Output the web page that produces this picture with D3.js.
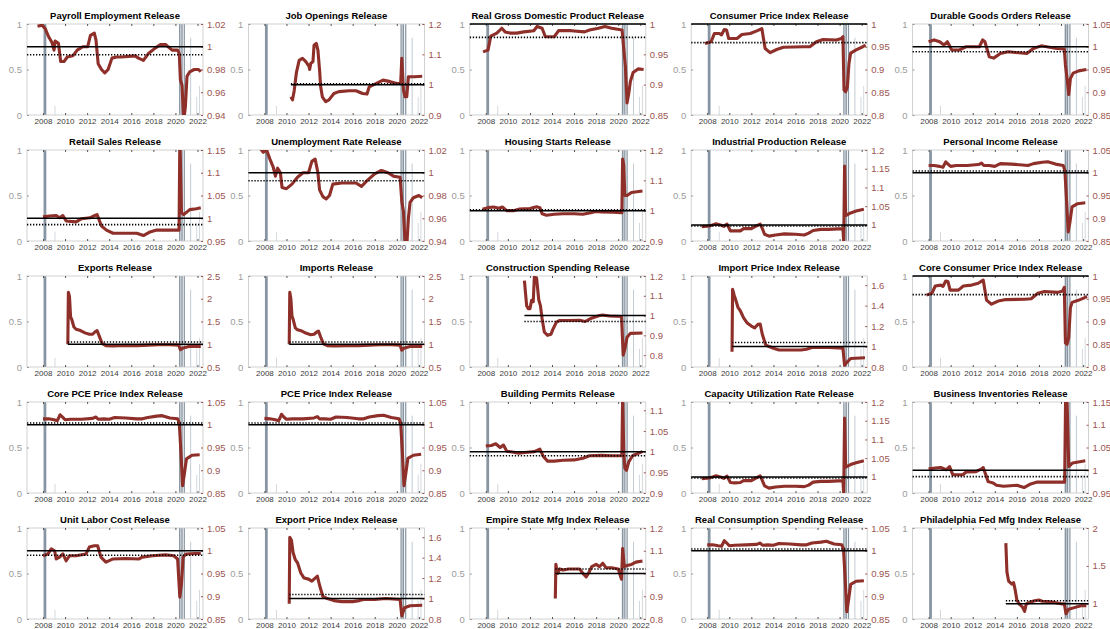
<!DOCTYPE html>
<html>
<head>
<meta charset="utf-8">
<script src="https://cdn.jsdelivr.net/npm/d3@7"></script>
<style>
  body { margin: 0; background: #fff; }
  svg text { font-family: "Liberation Sans", Arial, Helvetica, sans-serif; }
</style>
</head>
<body>
<div id="chart"></div>
<script>
/* DATA */
const xDomain = [2006.55, 2022.5]
const yearTicks = [2008, 2010, 2012, 2014, 2016, 2018, 2020, 2022]
const leftTicks = [0, 0.5, 1]

const titles = [
    "Payroll Employment Release", "Job Openings Release", "Real Gross Domestic Product Release", "Consumer Price Index Release", "Durable Goods Orders Release",
    "Retail Sales Release", "Unemployment Rate Release", "Housing Starts Release", "Industrial Production Release", "Personal Income Release",
    "Exports Release", "Imports Release", "Construction Spending Release", "Import Price Index Release", "Core Consumer Price Index Release",
    "Core PCE Price Index Release", "PCE Price Index Release", "Building Permits Release", "Capacity Utilization Rate Release", "Business Inventories Release",
    "Unit Labor Cost Release", "Export Price Index Release", "Empire State Mfg Index Release", "Real Consumption Spending Release", "Philadelphia Fed Mfg Index Release"
]

const rightDomains = [
    [0.94, 1.02], [0.9, 1.2], [0.85, 1], [0.8, 1], [0.85, 1.05],
    [0.95, 1.15], [0.94, 1.02], [0.9, 1.2], [0.957, 1.2], [0.85, 1.05],
    [0.5, 2.5], [0.5, 2.5], [0.74, 1.2], [0.8, 1.69], [0.8, 1],
    [0.85, 1.05], [0.85, 1.05], [0.9, 1.12], [0.957, 1.2], [0.95, 1.15],
    [0.85, 1.05], [0.8, 1.69], [0.8, 1.2], [0.85, 1.05], [0.8, 2]
]

const rightTicks = [
    [0.94, 0.96, 0.98, 1, 1.02], [0.9, 1, 1.1, 1.2], [0.85, 0.9, 0.95, 1], [0.8, 0.85, 0.9, 0.95, 1], [0.85, 0.9, 0.95, 1, 1.05],
    [0.95, 1, 1.05, 1.1, 1.15], [0.94, 0.96, 0.98, 1, 1.02], [0.9, 1, 1.1, 1.2], [1, 1.05, 1.1, 1.15, 1.2], [0.85, 0.9, 0.95, 1, 1.05],
    [0.5, 1, 1.5, 2, 2.5], [0.5, 1, 1.5, 2, 2.5], [0.8, 0.9, 1, 1.1, 1.2], [0.8, 1, 1.2, 1.4, 1.6], [0.8, 0.85, 0.9, 0.95, 1],
    [0.85, 0.9, 0.95, 1, 1.05], [0.85, 0.9, 0.95, 1, 1.05], [0.9, 0.95, 1, 1.05, 1.1], [1, 1.05, 1.1, 1.15, 1.2], [0.95, 1, 1.05, 1.1, 1.15],
    [0.85, 0.9, 0.95, 1, 1.05], [0.8, 1, 1.2, 1.4, 1.6], [0.8, 0.9, 1, 1.1, 1.2], [0.85, 0.9, 0.95, 1, 1.05], [1, 1.5, 2]
]

// solid line sits at 1 in every panel, dotted one varies
const solidLevel = 1
const dottedLevels = [
    0.993, 1.003, 0.978, 0.959, 0.989,
    0.986, 0.993, 1.003, 0.997, 1.004,
    1.05, 1.05, 0.97, 1.04, 0.959,
    1.004, 1.004, 0.99, 0.997, 0.986,
    0.99, 1.04, 1.02, 1.004, 1.04
]

// where the horizontal lines start (null = full width)
const lineStarts = [
    null, 2010.4, null, null, null,
    null, null, null, null, null,
    2010.25, 2010.25, 2011.5, 2010.25, null,
    null, null, null, null, null,
    null, 2010.25, 2014.3, null, 2015.0
]

// grey shading: [from, to, height on left axis, colour]
const shading = [
    [2008.05, 2008.3, 1, "#8794a1"],
    [2009.05, 2009.12, 0.1, "#c9d0d6"],
    [2020.33, 2020.45, 1, "#8794a1"],
    [2020.45, 2020.54, 1, "#b9c2ca"],
    [2020.54, 2020.66, 1, "#8794a1"],
    [2020.75, 2020.86, 1, "#8794a1"],
    [2021.35, 2021.41, 0.85, "#b4bec8"],
    [2021.9, 2021.95, 0.2, "#c9d0d6"],
    [2022.15, 2022.2, 0.32, "#c9d0d6"]
]

const payroll = [[2007.5,1.018],[2007.9,1.019],[2008.2,1.016],[2008.5,1.009],[2008.8,1.004],[2009.0,0.997],[2009.1,1.005],[2009.4,1.003],[2009.6,0.987],[2009.9,0.987],[2010.2,0.991],[2010.7,0.992],[2011.1,0.997],[2011.6,1.0],[2012.05,1.0],[2012.3,1.01],[2012.65,1.012],[2012.8,1.006],[2013.0,0.985],[2013.3,0.98],[2013.6,0.977],[2013.9,0.98],[2014.25,0.99],[2014.65,0.991],[2015.1,0.991],[2016.35,0.992],[2016.65,0.99],[2017.1,0.988],[2017.55,0.994],[2018.2,0.999],[2018.65,1.002],[2019.1,1.002],[2019.7,0.997],[2020.2,0.997],[2020.35,0.994],[2020.45,0.971],[2020.6,0.966],[2020.75,0.935],[2020.9,0.947],[2021.05,0.974],[2021.3,0.978],[2021.7,0.98],[2022.1,0.98],[2022.3,0.978]]
const jobOpenings = [[2010.4,0.96],[2010.55,0.95],[2010.7,0.98],[2010.9,1.04],[2011.15,1.08],[2011.45,1.087],[2011.75,1.076],[2012.05,1.06],[2012.1,1.05],[2012.2,1.07],[2012.4,1.076],[2012.5,1.13],[2012.7,1.136],[2012.85,1.114],[2013.0,1.048],[2013.1,0.993],[2013.25,0.96],[2013.55,0.944],[2013.85,0.95],[2014.3,0.971],[2014.75,0.977],[2015.7,0.98],[2016.3,0.98],[2016.9,0.971],[2017.3,0.969],[2017.5,0.993],[2018.15,1.004],[2018.75,1.015],[2019.4,1.01],[2020.0,1.004],[2020.35,1.004],[2020.45,1.087],[2020.6,0.982],[2020.75,0.96],[2020.9,0.96],[2021.05,1.026],[2021.6,1.026],[2022.3,1.028]]
const gdp = [[2007.75,0.954],[2008.2,0.957],[2008.45,0.98],[2009.0,0.985],[2009.45,0.993],[2009.75,0.987],[2010.2,0.985],[2010.8,0.985],[2011.45,0.987],[2012.35,0.989],[2012.65,0.996],[2013.1,0.993],[2013.4,0.979],[2014.2,0.979],[2014.6,0.989],[2015.75,0.989],[2016.95,0.987],[2017.4,0.99],[2018.2,0.993],[2018.8,0.996],[2019.4,0.993],[2020.35,0.99],[2020.5,0.96],[2020.65,0.93],[2020.8,0.87],[2020.95,0.885],[2021.1,0.905],[2021.35,0.92],[2021.8,0.926],[2022.3,0.925]]
const cpi = [[2007.8,0.957],[2008.35,0.961],[2008.65,0.979],[2009.1,0.979],[2009.3,0.976],[2009.55,0.988],[2009.75,0.987],[2009.95,0.968],[2010.7,0.968],[2011.15,0.977],[2011.9,0.979],[2012.5,0.985],[2012.95,0.99],[2013.25,0.946],[2013.7,0.937],[2014.3,0.944],[2014.9,0.949],[2016.7,0.95],[2017.3,0.95],[2017.9,0.961],[2018.5,0.966],[2019.7,0.965],[2020.15,0.968],[2020.3,0.972],[2020.4,0.855],[2020.55,0.851],[2020.7,0.862],[2020.85,0.914],[2021.0,0.936],[2021.5,0.943],[2022.1,0.95],[2022.35,0.954]]
const durableGoods = [[2008.0,1.011],[2008.5,1.015],[2009.0,1.011],[2009.4,1.004],[2009.7,1.011],[2010.1,0.993],[2010.8,0.993],[2011.4,1.0],[2012.6,1.0],[2012.9,1.015],[2013.1,1.011],[2013.5,0.978],[2013.9,0.975],[2014.5,0.985],[2015.2,0.989],[2016.9,0.985],[2017.5,0.996],[2018.2,1.002],[2019.6,0.996],[2020.3,0.995],[2020.4,0.96],[2020.55,0.93],[2020.7,0.895],[2020.85,0.93],[2021.1,0.942],[2021.6,0.947],[2022.3,0.95]]
const retailSales = [[2008.0,1.003],[2008.6,1.005],[2009.2,1.006],[2009.5,1.001],[2009.8,1.006],[2010.1,0.994],[2011.0,0.992],[2011.5,0.999],[2012.25,1.001],[2012.7,1.006],[2012.9,1.008],[2013.3,0.983],[2013.75,0.974],[2014.35,0.967],[2015.3,0.967],[2016.5,0.967],[2017.1,0.962],[2017.7,0.97],[2018.3,0.974],[2020.1,0.974],[2020.33,0.974],[2020.4,1.17],[2020.45,1.13],[2020.55,1.012],[2020.75,1.008],[2021.3,1.019],[2021.9,1.021],[2022.3,1.023]]
const unemployment = [[2007.5,1.023],[2007.9,1.018],[2008.2,1.02],[2008.5,1.012],[2008.8,1.005],[2009.0,0.997],[2009.2,1.004],[2009.45,1.0],[2009.6,0.987],[2010.0,0.986],[2010.5,0.99],[2011.0,0.996],[2011.5,1.0],[2012.0,1.0],[2012.3,1.01],[2012.6,1.012],[2012.85,1.0],[2013.0,0.985],[2013.3,0.979],[2013.6,0.977],[2013.9,0.98],[2014.2,0.99],[2015.0,0.991],[2016.3,0.991],[2016.8,0.988],[2017.3,0.993],[2018.0,0.999],[2018.6,1.002],[2019.2,1.0],[2019.7,0.997],[2020.3,0.996],[2020.45,0.975],[2020.6,0.966],[2020.75,0.938],[2020.9,0.935],[2021.05,0.96],[2021.2,0.974],[2021.5,0.978],[2022.0,0.98],[2022.3,0.978]]
const housingStarts = [[2007.7,1.005],[2008.2,1.01],[2008.7,1.012],[2009.2,1.008],[2009.5,1.012],[2009.9,1.0],[2010.5,1.0],[2011.0,1.005],[2012.0,1.007],[2012.6,1.013],[2012.9,1.01],[2013.1,0.99],[2013.5,0.985],[2014.2,0.988],[2015.0,0.99],[2016.0,0.99],[2016.8,0.988],[2017.5,0.993],[2018.0,0.997],[2018.5,0.996],[2019.5,0.995],[2020.33,0.993],[2020.4,1.17],[2020.5,1.15],[2020.6,1.05],[2020.8,1.05],[2021.2,1.06],[2022.2,1.065]]
const industrial = [[2007.5,0.995],[2008.2,0.997],[2008.5,1.0],[2008.8,1.003],[2009.2,1.0],[2009.5,0.996],[2009.8,1.002],[2010.1,0.984],[2010.5,0.984],[2011.0,0.984],[2011.3,0.99],[2012.0,0.99],[2012.5,0.998],[2012.8,1.002],[2013.0,0.99],[2013.2,0.975],[2013.6,0.97],[2014.2,0.973],[2015.0,0.976],[2016.0,0.975],[2016.8,0.973],[2017.2,0.978],[2017.6,0.985],[2018.3,0.988],[2019.0,0.988],[2020.3,0.99],[2020.37,0.955],[2020.45,1.157],[2020.55,1.025],[2021.0,1.032],[2021.5,1.037],[2022.2,1.042]]
const personalIncome = [[2008.0,1.016],[2008.5,1.016],[2009.0,1.014],[2009.3,1.012],[2009.55,1.024],[2009.8,1.018],[2010.0,1.014],[2010.5,1.016],[2011.5,1.016],[2012.5,1.018],[2012.8,1.021],[2013.0,1.016],[2013.5,1.016],[2014.0,1.014],[2014.5,1.02],[2015.5,1.019],[2016.5,1.017],[2017.0,1.016],[2017.5,1.02],[2018.3,1.023],[2018.8,1.024],[2019.5,1.019],[2020.2,1.016],[2020.35,1.005],[2020.5,0.94],[2020.65,0.87],[2020.8,0.89],[2021.0,0.925],[2021.5,0.932],[2022.2,0.934]]
const exportsRel = [[2010.25,1.0],[2010.3,2.14],[2010.4,2.05],[2010.5,1.6],[2010.6,1.55],[2010.8,1.38],[2011.0,1.33],[2011.4,1.3],[2011.8,1.25],[2012.2,1.22],[2012.5,1.22],[2012.75,1.28],[2012.9,1.3],[2013.1,1.18],[2013.35,1.02],[2013.7,0.97],[2014.3,0.96],[2015.5,0.975],[2016.5,0.97],[2017.5,0.98],[2018.5,0.99],[2019.5,0.99],[2020.3,0.98],[2020.45,0.88],[2020.7,0.92],[2021.2,0.95],[2022.3,0.95]]
const importsRel = [[2010.25,1.0],[2010.3,2.14],[2010.4,2.0],[2010.5,1.62],[2010.6,1.55],[2010.8,1.36],[2011.0,1.32],[2011.4,1.29],[2011.8,1.24],[2012.2,1.21],[2012.5,1.22],[2012.75,1.27],[2012.9,1.29],[2013.1,1.16],[2013.35,1.01],[2013.7,0.97],[2014.3,0.96],[2015.5,0.97],[2016.5,0.97],[2017.5,0.98],[2018.5,0.99],[2019.5,0.99],[2020.3,0.98],[2020.45,0.87],[2020.7,0.92],[2021.2,0.95],[2022.3,0.95]]
const construction = [[2011.5,1.177],[2011.7,1.05],[2011.85,1.035],[2012.0,1.035],[2012.15,1.077],[2012.3,1.07],[2012.4,1.195],[2012.6,1.19],[2012.8,1.08],[2012.95,1.05],[2013.1,0.985],[2013.3,0.917],[2013.6,0.9],[2013.9,0.905],[2014.1,0.933],[2014.4,0.967],[2014.7,0.975],[2015.5,0.975],[2016.5,0.976],[2017.0,0.97],[2017.5,0.985],[2018.3,1.0],[2018.6,1.003],[2019.2,0.998],[2020.3,0.995],[2020.45,0.8],[2020.6,0.83],[2020.8,0.89],[2021.1,0.91],[2022.2,0.912]]
const importPrice = [[2010.25,0.95],[2010.3,1.56],[2010.45,1.5],[2010.6,1.45],[2010.8,1.38],[2011.0,1.35],[2011.3,1.28],[2011.6,1.233],[2012.0,1.2],[2012.3,1.183],[2012.6,1.217],[2012.8,1.22],[2013.0,1.117],[2013.3,1.017],[2013.6,1.0],[2014.0,0.983],[2014.5,0.967],[2016.5,0.967],[2017.0,0.973],[2017.5,0.99],[2019.0,0.99],[2020.3,0.983],[2020.45,0.817],[2020.7,0.85],[2021.0,0.883],[2022.3,0.89]]
const coreCpi = [[2007.8,0.958],[2008.3,0.962],[2008.6,0.978],[2009.1,0.98],[2009.3,0.977],[2009.55,0.989],[2009.75,0.988],[2009.95,0.969],[2010.7,0.969],[2011.15,0.978],[2011.9,0.98],[2012.5,0.984],[2012.95,0.991],[2013.25,0.947],[2013.7,0.938],[2014.3,0.945],[2014.9,0.948],[2016.7,0.949],[2017.3,0.95],[2017.9,0.962],[2018.5,0.966],[2019.7,0.964],[2020.15,0.967],[2020.3,0.975],[2020.4,0.853],[2020.55,0.85],[2020.7,0.865],[2020.85,0.93],[2021.0,0.942],[2021.5,0.946],[2022.1,0.952],[2022.35,0.955]]
const corePce = [[2008.0,1.013],[2008.5,1.013],[2009.0,1.011],[2009.3,1.009],[2009.55,1.022],[2009.8,1.016],[2010.0,1.011],[2010.5,1.012],[2011.5,1.012],[2012.5,1.014],[2012.8,1.017],[2013.0,1.012],[2013.5,1.013],[2014.0,1.012],[2014.5,1.016],[2015.5,1.015],[2016.5,1.013],[2017.0,1.013],[2017.5,1.016],[2018.3,1.019],[2018.8,1.02],[2019.5,1.015],[2020.2,1.013],[2020.35,1.004],[2020.5,0.94],[2020.65,0.866],[2020.8,0.89],[2021.0,0.925],[2021.5,0.933],[2022.2,0.934]]
const pce = [[2008.0,1.014],[2008.5,1.013],[2009.0,1.011],[2009.3,1.009],[2009.55,1.023],[2009.8,1.016],[2010.0,1.012],[2010.5,1.013],[2011.5,1.013],[2012.5,1.015],[2012.8,1.018],[2013.0,1.013],[2013.5,1.013],[2014.0,1.012],[2014.5,1.017],[2015.5,1.016],[2016.5,1.013],[2017.0,1.013],[2017.5,1.017],[2018.3,1.02],[2018.8,1.021],[2019.5,1.016],[2020.2,1.013],[2020.35,1.004],[2020.5,0.94],[2020.65,0.866],[2020.8,0.89],[2021.0,0.926],[2021.5,0.933],[2022.2,0.935]]
const permits = [[2008.0,1.014],[2008.5,1.015],[2008.9,1.019],[2009.3,1.01],[2009.6,1.016],[2009.9,1.001],[2010.4,0.999],[2011.0,0.996],[2011.5,0.998],[2012.4,1.0],[2012.9,1.006],[2013.2,0.989],[2013.6,0.977],[2014.2,0.977],[2015.0,0.979],[2016.0,0.98],[2016.8,0.984],[2017.4,0.99],[2018.5,0.991],[2019.5,0.99],[2020.33,0.99],[2020.4,1.13],[2020.5,1.0],[2020.6,0.96],[2020.75,0.955],[2020.95,0.975],[2021.3,0.99],[2021.8,0.996],[2022.2,1.0]]
const capacity = [[2007.5,0.995],[2008.2,0.997],[2008.5,1.0],[2008.8,1.003],[2009.2,1.0],[2009.5,0.996],[2009.8,1.002],[2010.1,0.985],[2010.5,0.984],[2011.0,0.985],[2011.3,0.99],[2012.0,0.99],[2012.5,0.998],[2012.8,1.003],[2013.0,0.99],[2013.2,0.976],[2013.6,0.97],[2014.2,0.973],[2015.0,0.975],[2016.0,0.975],[2016.8,0.974],[2017.2,0.978],[2017.6,0.986],[2018.3,0.988],[2019.0,0.988],[2020.3,0.99],[2020.37,0.955],[2020.45,1.157],[2020.55,1.026],[2021.0,1.033],[2021.5,1.038],[2022.2,1.043]]
const inventories = [[2008.0,1.003],[2008.6,1.005],[2009.1,1.006],[2009.6,1.001],[2009.9,1.008],[2010.2,0.99],[2011.1,0.99],[2011.4,0.996],[2012.3,0.997],[2012.8,1.003],[2012.95,1.006],[2013.4,0.975],[2013.85,0.972],[2014.15,0.967],[2014.8,0.965],[2016.0,0.967],[2016.65,0.962],[2017.25,0.97],[2017.85,0.974],[2020.33,0.974],[2020.42,1.17],[2020.55,1.15],[2020.7,1.008],[2021.05,1.016],[2021.95,1.02],[2022.2,1.021]]
const unitLabor = [[2008.0,0.989],[2008.45,0.993],[2008.75,1.004],[2009.05,1.0],[2009.2,0.982],[2009.5,0.986],[2009.8,0.993],[2010.1,0.978],[2010.4,0.989],[2011.0,0.989],[2011.9,0.993],[2012.2,1.008],[2012.65,1.011],[2012.95,1.011],[2013.25,0.986],[2013.7,0.975],[2014.35,0.982],[2015.5,0.983],[2016.7,0.982],[2017.0,0.986],[2017.9,0.989],[2019.1,0.991],[2019.85,0.989],[2020.2,0.982],[2020.4,0.898],[2020.55,0.927],[2020.7,0.986],[2020.95,0.993],[2021.8,0.994],[2022.3,0.994]]
const exportPrice = [[2010.25,0.95],[2010.3,1.6],[2010.45,1.57],[2010.6,1.45],[2010.8,1.38],[2011.0,1.35],[2011.3,1.25],[2011.6,1.2],[2012.0,1.19],[2012.3,1.17],[2012.6,1.2],[2012.8,1.22],[2013.0,1.13],[2013.3,1.02],[2013.7,1.0],[2014.3,0.98],[2015.0,0.97],[2016.0,0.97],[2016.6,0.98],[2017.0,0.99],[2018.0,0.99],[2019.0,1.0],[2020.3,0.99],[2020.45,0.83],[2020.7,0.91],[2021.2,0.93],[2022.3,0.935]]
const empireState = [[2014.3,0.89],[2014.35,1.04],[2014.5,1.0],[2014.7,1.02],[2015.0,1.015],[2015.5,1.02],[2016.0,1.02],[2016.5,1.02],[2016.8,1.0],[2017.1,0.985],[2017.3,1.0],[2017.6,1.03],[2018.0,1.04],[2018.3,1.03],[2018.6,1.045],[2018.9,1.025],[2019.4,1.025],[2020.0,1.02],[2020.3,0.975],[2020.4,1.11],[2020.55,1.03],[2020.8,1.035],[2021.2,1.04],[2021.6,1.05],[2022.2,1.055]]
const realConsumption = [[2008.0,1.013],[2008.5,1.013],[2009.0,1.011],[2009.3,1.01],[2009.55,1.022],[2009.8,1.016],[2010.0,1.011],[2010.5,1.012],[2011.5,1.013],[2012.5,1.014],[2012.8,1.017],[2013.0,1.012],[2013.5,1.013],[2014.0,1.012],[2014.5,1.016],[2015.5,1.015],[2016.5,1.013],[2017.0,1.013],[2017.5,1.017],[2018.3,1.019],[2018.8,1.021],[2019.5,1.015],[2020.2,1.013],[2020.35,1.004],[2020.5,0.94],[2020.65,0.866],[2020.8,0.89],[2021.0,0.926],[2021.5,0.933],[2022.2,0.934]]
const philadelphia = [[2015.0,1.8],[2015.1,1.42],[2015.25,1.3],[2015.4,1.28],[2015.55,1.26],[2015.7,1.28],[2015.85,1.18],[2016.0,1.05],[2016.2,1.0],[2016.5,0.96],[2016.7,0.9],[2016.85,1.0],[2017.2,1.02],[2017.6,1.04],[2018.0,1.05],[2018.3,1.035],[2018.8,1.03],[2019.3,1.02],[2020.0,1.0],[2020.3,1.0],[2020.45,0.87],[2020.7,0.93],[2021.2,0.95],[2021.8,0.975],[2022.3,0.975]]

const seriesList = [
    payroll, jobOpenings, gdp, cpi, durableGoods,
    retailSales, unemployment, housingStarts, industrial, personalIncome,
    exportsRel, importsRel, construction, importPrice, coreCpi,
    corePce, pce, permits, capacity, inventories,
    unitLabor, exportPrice, empireState, realConsumption, philadelphia
]

/* LAYOUT */
const W = 1110, H = 629
const colLeft = 27, colStep = 221.4, plotW = 176
const rowTop = 24, rowStep = 126, plotH = 91

const lineColor = "#8e2f2a"
const rightLabelColor = "#9b5450"
const leftLabelColor = "#9c9c9c"

const svg = d3.select("#chart")
    .append("svg")
    .attr("width", W)
    .attr("height", H)

const x = d3.scaleLinear().domain(xDomain).range([0, plotW])
const yLeft = d3.scaleLinear().domain([0, 1]).range([plotH, 0])
const fmt = d3.format("~g")

titles.forEach((title, i) => {
    const col = i % 5, row = Math.floor(i / 5)
    const g = svg.append("g")
        .attr("transform", "translate(" + (colLeft + col * colStep) + "," + (rowTop + row * rowStep) + ")")

    const yRight = d3.scaleLinear().domain(rightDomains[i]).range([plotH, 0])

    g.append("clipPath").attr("id", "clip" + i)
        .append("rect").attr("width", plotW).attr("height", plotH)

    // grey shading bars
    g.append("g").selectAll("rect")
        .data(shading)
        .enter().append("rect")
        .attr("x", d => x(d[0]))
        .attr("width", d => Math.max(0.8, x(d[1]) - x(d[0])))
        .attr("y", d => yLeft(d[2]))
        .attr("height", d => plotH - yLeft(d[2]))
        .attr("fill", d => d[3])

    // frame
    g.append("rect")
        .attr("width", plotW).attr("height", plotH)
        .attr("fill", "none").attr("stroke", "#c6c6c6").attr("stroke-width", 0.8)

    // axes
    const xAxis = g.append("g").attr("transform", "translate(0," + plotH + ")")
        .call(d3.axisBottom(x).tickValues(yearTicks).tickFormat(d3.format("d")).tickSizeInner(-2).tickSizeOuter(0).tickPadding(3))
    const topAxis = g.append("g")
        .call(d3.axisTop(x).tickValues(yearTicks).tickFormat("").tickSizeInner(-2).tickSizeOuter(0))
    const leftAxis = g.append("g")
        .call(d3.axisLeft(yLeft).tickValues(leftTicks).tickFormat(fmt).tickSizeInner(-2).tickSizeOuter(0).tickPadding(5))
    const rightAxis = g.append("g").attr("transform", "translate(" + plotW + ",0)")
        .call(d3.axisRight(yRight).tickValues(rightTicks[i]).tickFormat(fmt).tickSizeInner(-2).tickSizeOuter(0).tickPadding(4))

    ;[xAxis, topAxis, leftAxis, rightAxis].forEach(a => a.select(".domain").remove())
    xAxis.selectAll("line").attr("stroke", "#555")
    topAxis.selectAll("line").attr("stroke", "#555")
    leftAxis.selectAll("line").attr("stroke", "#999")
    rightAxis.selectAll("line").attr("stroke", rightLabelColor)
    xAxis.selectAll("text").attr("fill", "#3a3a3a").style("font-size", "8px")
    leftAxis.selectAll("text").attr("fill", leftLabelColor).style("font-size", "9.5px")
    rightAxis.selectAll("text").attr("fill", rightLabelColor).style("font-size", "9.5px")

    // red series
    const line = d3.line()
        .x(d => x(d[0]))
        .y(d => yRight(d[1]))
    g.append("path")
        .datum(seriesList[i])
        .attr("clip-path", "url(#clip" + i + ")")
        .attr("fill", "none")
        .attr("stroke", lineColor)
        .attr("stroke-width", 3.1)
        .attr("stroke-linejoin", "round")
        .attr("d", line)

    // reference lines
    const x0 = lineStarts[i] === null ? 0 : x(lineStarts[i])
    g.append("line")
        .attr("x1", x0).attr("x2", plotW)
        .attr("y1", yRight(solidLevel)).attr("y2", yRight(solidLevel))
        .attr("stroke", "#000").attr("stroke-width", 1.5)
    g.append("line")
        .attr("x1", x0).attr("x2", plotW)
        .attr("y1", yRight(dottedLevels[i])).attr("y2", yRight(dottedLevels[i]))
        .attr("stroke", "#000").attr("stroke-width", 1.6)
        .attr("stroke-dasharray", "1.3,1.7")

    // title
    g.append("text")
        .attr("x", plotW / 2).attr("y", -5)
        .attr("text-anchor", "middle")
        .style("font-size", "9.5px").style("font-weight", "bold")
        .attr("fill", "#000")
        .text(title)
})
</script>
</body>
</html>
